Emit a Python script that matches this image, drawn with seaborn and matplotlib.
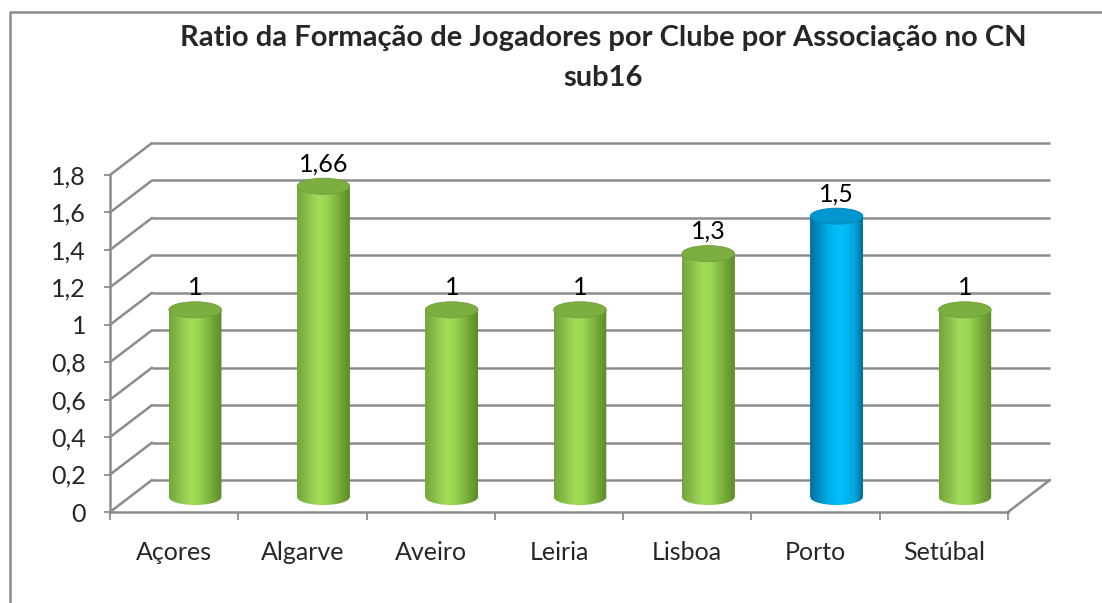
import numpy as np
import matplotlib
matplotlib.use("Agg")
import matplotlib.pyplot as plt
import matplotlib.transforms as mtransforms
from matplotlib.patches import Ellipse, PathPatch
from matplotlib.path import Path
from matplotlib.lines import Line2D
from matplotlib.colors import LinearSegmentedColormap
import pandas as pd
import seaborn as sns

# data
categories = ["Açores", "Algarve", "Aveiro", "Leiria", "Lisboa", "Porto", "Setúbal"]
ratios = [1, 1.66, 1, 1, 1.3, 1.5, 1]
value_labels = ["1", "1,66", "1", "1", "1,3", "1,5", "1"]
y_ticks = [0, 0.2, 0.4, 0.6, 0.8, 1.0, 1.2, 1.4, 1.6, 1.8]
y_tick_labels = ["0", "0,2", "0,4", "0,6", "0,8", "1", "1,2", "1,4", "1,6", "1,8"]
highlight = "Porto"
title_1 = "Ratio da Formação de Jogadores por Clube por Associação no CN"
title_2 = "sub16"

grey = "#8c8c8c"
green_cm = LinearSegmentedColormap.from_list(
    "g", [(0, "#74a43a"), (0.4, "#a2dc5a"), (0.55, "#9bd654"), (1, "#5b8a28")])
blue_cm = LinearSegmentedColormap.from_list(
    "b", [(0, "#006f9e"), (0.35, "#00aee6"), (0.6, "#00c0fb"), (0.85, "#00a6dc"), (1, "#006a94")])

sns.set_theme(style="white")
plt.rcParams["font.family"] = ["Lato", "DejaVu Sans"]

fig = plt.figure(figsize=(11.02, 6.03), dpi=100)
W, H = 1102, 603
ax = fig.add_axes([110 / W, (H - 512) / H, 898 / W, 337 / H])
ax.patch.set_visible(False)

df = pd.DataFrame({"assoc": categories, "ratio": ratios})
pal = {c: ("#00b4ef" if c == highlight else "#8cc84b") for c in categories}
sns.barplot(data=df, x="assoc", y="ratio", hue="assoc", palette=pal, legend=False,
            width=0.41, linewidth=0, ax=ax, zorder=2)

ax.set_xlim(-0.5, len(categories) - 0.5)
ax.set_ylim(0, 1.8)

# depth offsets (pixels) for back wall and middle of the box
back_off = ax.transData + mtransforms.ScaledTranslation(0.42, 0.32, fig.dpi_scale_trans)
mid_off = ax.transData + mtransforms.ScaledTranslation(0.21, 0.15, fig.dpi_scale_trans)
px_per_unit = 337 / 1.8
eh = 16 / px_per_unit  # ellipse height in data units

# back wall gridlines + side wall / floor diagonals
ax.hlines(y_ticks, -0.5, len(categories) - 0.5, colors=grey, lw=1.8,
          transform=back_off, zorder=0.5, clip_on=False)
for v in y_ticks:
    ax.annotate("", xy=(-0.5, v), xytext=(42, 32), textcoords="offset pixels",
                arrowprops=dict(arrowstyle="-", color=grey, lw=1.8, shrinkA=0, shrinkB=0))
ax.annotate("", xy=(len(categories) - 0.5, 0), xytext=(42, 32), textcoords="offset pixels",
            arrowprops=dict(arrowstyle="-", color=grey, lw=1.8, shrinkA=0, shrinkB=0))

# turn bars into cylinders
grad = np.linspace(0, 1, 256).reshape(1, -1)
for bar, cat, lbl in zip(ax.patches[:len(categories)], categories, value_labels):
    x0, w, h = bar.get_x(), bar.get_width(), bar.get_height()
    xc = x0 + w / 2
    bar.set_transform(mid_off)
    bar.set_clip_on(False)
    t = np.linspace(np.pi, 2 * np.pi, 60)
    verts = [(x0, h), (x0, 0)] + list(zip(xc + w / 2 * np.cos(t), eh / 2 * np.sin(t))) + [(x0 + w, h), (x0, h)]
    clip = PathPatch(Path(verts), transform=mid_off)
    cm = blue_cm if cat == highlight else green_cm
    im = ax.imshow(grad, extent=(x0, x0 + w, -eh / 2, h), transform=mid_off, cmap=cm,
                   aspect="auto", interpolation="bilinear", zorder=2.1)
    im.set_clip_path(clip)
    top_c = "#0096cf" if cat == highlight else "#7cae40"
    edge_c = "#0086ba" if cat == highlight else "#6f9d38"
    ax.add_patch(Ellipse((xc, h), w, eh, transform=mid_off, facecolor=top_c,
                         edgecolor=edge_c, lw=0.6, zorder=3, clip_on=False))
    ax.annotate(lbl, (xc, h), xytext=(21, 30), textcoords="offset pixels",
                ha="center", va="baseline", fontsize=18, color="black")

ax.set_xlim(-0.5, len(categories) - 0.5)
ax.set_ylim(0, 1.8)

# axes styling
for s in ["top", "right"]:
    ax.spines[s].set_visible(False)
for s in ["left", "bottom"]:
    ax.spines[s].set_color(grey)
    ax.spines[s].set_linewidth(1.8)
ax.set_yticks(y_ticks, labels=y_tick_labels)
ax.set_xticks(range(len(categories)), labels=categories)
ax.set_xticks(np.arange(-0.5, len(categories)), minor=True)
ax.tick_params(axis="y", length=4.3, width=1.3, color=grey, pad=13, labelsize=18, left=True)
ax.tick_params(axis="x", which="major", length=0, pad=21, labelsize=18)
ax.tick_params(axis="x", which="minor", length=6, width=1.3, color=grey, bottom=True)
ax.set_xlabel("")
ax.set_ylabel("")

# titles
fig.text(603 / W, 1 - 46 / H, title_1, ha="center", va="baseline", fontsize=21, fontweight="bold")
fig.text(603 / W, 1 - 86 / H, title_2, ha="center", va="baseline", fontsize=21, fontweight="bold")

# chart area border (only left and top visible)
fig.add_artist(Line2D([10 / W, 10 / W, 1], [0, 1 - 12 / H, 1 - 12 / H],
                      transform=fig.transFigure, color=grey, lw=1.8))

fig.savefig("out.png", dpi=100)
